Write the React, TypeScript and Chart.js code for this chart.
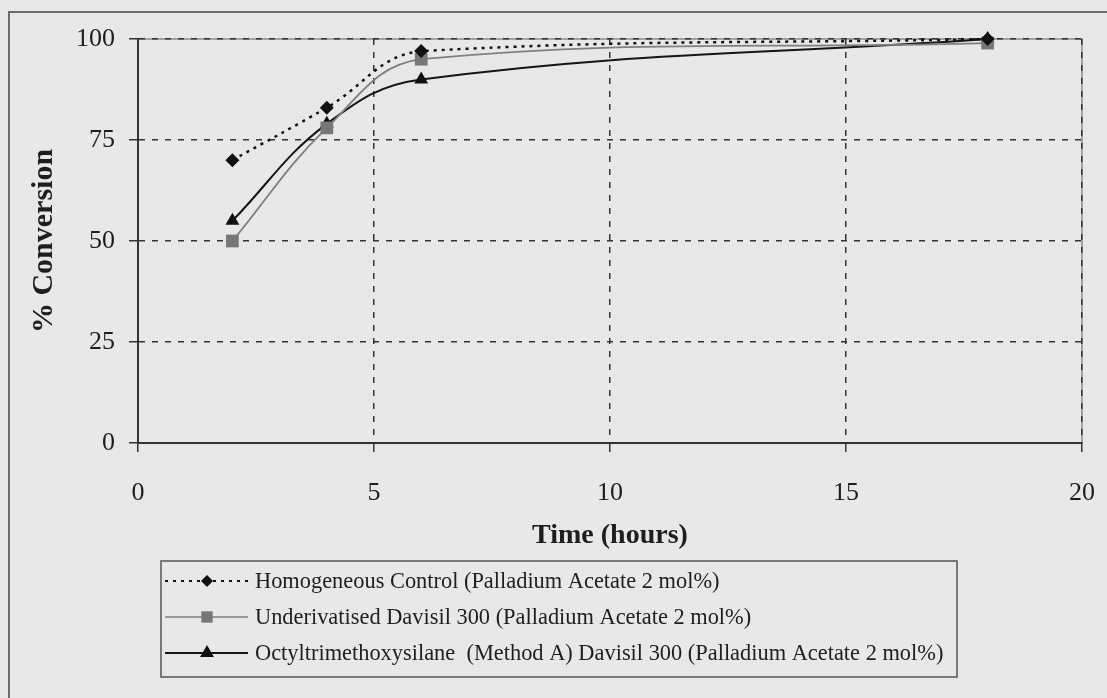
import React, { useEffect, useRef } from 'react';
import { Chart, registerables } from 'chart.js';

Chart.register(...registerables);

// ---- data ----
const timeHours = [2, 4, 6, 18];
const homogeneousControl = [70, 83, 97, 100];
const underivatisedDavisil = [50, 78, 95, 99];
const octylDavisil = [55, 79, 90, 100];
const seriesLabels = [
  'Homogeneous Control (Palladium Acetate 2 mol%)',
  'Underivatised Davisil 300 (Palladium Acetate 2 mol%)',
  'Octyltrimethoxysilane  (Method A) Davisil 300 (Palladium Acetate 2 mol%)',
];
const xAxisTitle = 'Time (hours)';
const yAxisTitle = '% Conversion';

const BG = '#e8e8e8';
const INK = '#1e1e1e';
const FONT = "'Liberation Serif', 'Times New Roman', serif";

function toPoints(xs: number[], ys: number[]) {
  return xs.map((x, i) => ({ x, y: ys[i] }));
}

function drawMarker(ctx: CanvasRenderingContext2D, style: string, x: number, y: number, r: number, color: string) {
  ctx.beginPath();
  if (style === 'rectRot') {
    ctx.moveTo(x - r, y);
    ctx.lineTo(x, y - r);
    ctx.lineTo(x + r, y);
    ctx.lineTo(x, y + r);
    ctx.closePath();
  } else if (style === 'rect') {
    const s = r * Math.SQRT1_2;
    ctx.rect(x - s, y - s, 2 * s, 2 * s);
  } else {
    let a = 0;
    ctx.moveTo(x + Math.sin(a) * r, y - Math.cos(a) * r);
    a += (2 * Math.PI) / 3;
    ctx.lineTo(x + Math.sin(a) * r, y - Math.cos(a) * r);
    a += (2 * Math.PI) / 3;
    ctx.lineTo(x + Math.sin(a) * r, y - Math.cos(a) * r);
    ctx.closePath();
  }
  ctx.fillStyle = color;
  ctx.fill();
}

export default function App() {
  const ref = useRef<HTMLCanvasElement>(null);

  useEffect(() => {
    const canvas = ref.current;
    if (!canvas) return;

    const framePlugin = {
      id: 'frame',
      beforeDraw(chart: any) {
        const ctx = chart.ctx as CanvasRenderingContext2D;
        ctx.save();
        ctx.fillStyle = BG;
        ctx.fillRect(0, 0, chart.width, chart.height);
        const a = chart.chartArea;
        ctx.strokeStyle = '#8a8a8a';
        ctx.lineWidth = 1.5;
        ctx.strokeRect(a.left, a.top, a.right - a.left, a.bottom - a.top);
        ctx.strokeStyle = '#6a6a6a';
        ctx.lineWidth = 2;
        ctx.beginPath();
        ctx.moveTo(9, chart.height);
        ctx.lineTo(9, 12);
        ctx.lineTo(chart.width, 12);
        ctx.stroke();
        ctx.restore();
      },
    };

    const legendPlugin = {
      id: 'boxLegend',
      afterDraw(chart: any) {
        const ctx = chart.ctx as CanvasRenderingContext2D;
        const box = { x: 161, y: 561, w: 796, h: 116 };
        const rows = [581, 617, 653];
        ctx.save();
        ctx.strokeStyle = '#555';
        ctx.lineWidth = 1.5;
        ctx.strokeRect(box.x, box.y, box.w, box.h);
        chart.data.datasets.forEach((ds: any, i: number) => {
          const y = rows[i];
          ctx.beginPath();
          ctx.strokeStyle = ds.borderColor;
          ctx.lineWidth = ds.legendLineWidth;
          ctx.setLineDash(ds.borderDash || []);
          ctx.moveTo(165, y);
          ctx.lineTo(248, y);
          ctx.stroke();
          ctx.setLineDash([]);
          drawMarker(ctx, ds.pointStyle, 207, y, ds.legendRadius, ds.pointBackgroundColor);
          ctx.fillStyle = INK;
          ctx.font = `22.4px ${FONT}`;
          ctx.textBaseline = 'middle';
          ctx.textAlign = 'left';
          ctx.fillText(ds.label, 255, y + 1);
        });
        ctx.restore();
      },
    };

    const chart = new Chart(canvas, {
      type: 'line',
      data: {
        datasets: [
          {
            label: seriesLabels[0],
            data: toPoints(timeHours, homogeneousControl),
            borderColor: '#111',
            borderWidth: 2.5,
            borderDash: [3, 5],
            pointStyle: 'rectRot',
            pointRadius: 7,
            pointBackgroundColor: '#111',
            pointBorderWidth: 0,
            tension: 0.4,
            clip: false,
            legendLineWidth: 1.8,
            legendRadius: 6,
          } as any,
          {
            label: seriesLabels[1],
            data: toPoints(timeHours, underivatisedDavisil),
            borderColor: '#7f7f7f',
            borderWidth: 1.8,
            pointStyle: 'rect',
            pointRadius: 9,
            pointBackgroundColor: '#777',
            pointBorderWidth: 0,
            tension: 0.4,
            clip: false,
            legendLineWidth: 1.5,
            legendRadius: 8,
          } as any,
          {
            label: seriesLabels[2],
            data: toPoints(timeHours, octylDavisil),
            borderColor: '#151515',
            borderWidth: 2,
            pointStyle: 'triangle',
            pointRadius: 8,
            pointBackgroundColor: '#111',
            pointBorderWidth: 0,
            tension: 0.4,
            clip: false,
            legendLineWidth: 1.8,
            legendRadius: 8,
          } as any,
        ],
      },
      options: {
        responsive: false,
        animation: false,
        devicePixelRatio: 1,
        layout: { padding: { left: 0, top: 39, right: 25, bottom: 145 } },
        plugins: {
          legend: { display: false },
          tooltip: { enabled: false },
        },
        scales: {
          x: {
            type: 'linear',
            min: 0,
            max: 20,
            afterFit(s: any) {
              s.height = 110;
              s.paddingRight = 0;
              s.paddingLeft = 0;
            },
            ticks: {
              stepSize: 5,
              color: INK,
              font: { family: FONT, size: 26 },
              padding: 26,
              maxRotation: 0,
            },
            grid: {
              color: '#333',
              lineWidth: 1.5,
              tickLength: 9,
              tickColor: '#333',
              tickWidth: 1.5,
              tickBorderDash: [],
            },
            border: { display: true, color: '#333', width: 2, dash: [6, 7] },
            title: {
              display: true,
              text: xAxisTitle,
              color: INK,
              font: { family: FONT, size: 28, weight: 'bold' },
              padding: { top: 11, bottom: 0 },
            },
          },
          y: {
            type: 'linear',
            min: 0,
            max: 100,
            afterFit(s: any) {
              s.width = 138;
            },
            ticks: {
              stepSize: 25,
              color: INK,
              font: { family: FONT, size: 26 },
              padding: 14,
            },
            grid: {
              color: '#333',
              lineWidth: 1.5,
              tickLength: 9,
              tickColor: '#333',
              tickWidth: 1.5,
              tickBorderDash: [],
            },
            border: { display: true, color: '#333', width: 2, dash: [6, 7] },
            title: {
              display: true,
              text: yAxisTitle,
              color: INK,
              font: { family: FONT, size: 30, weight: 'bold' },
              padding: { top: 26, bottom: 0 },
            },
          },
        },
      } as any,
      plugins: [framePlugin, legendPlugin],
    });

    return () => chart.destroy();
  }, []);

  return (
    <div style={{ position: 'fixed', left: 0, top: 0, width: 1107, height: 698, background: BG }}>
      <canvas ref={ref} width={1107} height={698} style={{ display: 'block' }} />
    </div>
  );
}
